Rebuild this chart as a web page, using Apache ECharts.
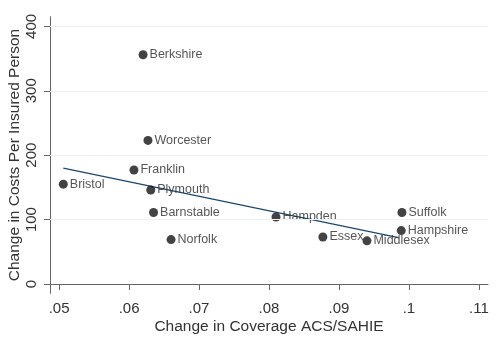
<!DOCTYPE html>
<html>
<head>
<meta charset="utf-8">
<script src="https://cdn.jsdelivr.net/npm/echarts@6/dist/echarts.min.js"></script>
<style>
  html, body { margin: 0; padding: 0; background: #ffffff; }
  #chart { width: 500px; height: 339px; }
</style>
</head>
<body>
<div id="chart"></div>
<script>
// Massachusetts counties: change in coverage vs change in costs per insured person
const counties = ['Berkshire', 'Worcester', 'Franklin', 'Bristol', 'Plymouth', 'Barnstable',
                  'Norfolk', 'Hampden', 'Essex', 'Middlesex', 'Suffolk', 'Hampshire'];
const coverageChange = [0.0620, 0.0627, 0.0607, 0.0506, 0.0631, 0.0635,
                        0.0660, 0.0810, 0.0877, 0.0940, 0.0990, 0.0989];
const costChange = [356, 223, 177, 155, 146, 111,
                    69, 104, 73, 67, 111, 83];

// Linear fit endpoints
const fitX = [0.0506, 0.0985];
const fitY = [180, 72];

// Axis ticks
const xTicks = [0.05, 0.06, 0.07, 0.08, 0.09, 0.10, 0.11];
const yTicks = [0, 100, 200, 300, 400];

const fontFamily = '"Liberation Sans", Arial, sans-serif';
const textColor = '#333333';

const points = counties.map((name, i) => [coverageChange[i], costChange[i], name]);
const fitLine = fitX.map((x, i) => [x, fitY[i]]);

const chart = echarts.init(document.getElementById('chart'), null, { renderer: 'canvas' });
chart.setOption({
  backgroundColor: '#ffffff',
  animation: false,
  grid: { left: 50, right: 12, top: 16.7, bottom: 45.7, outerBoundsMode: 'none', containLabel: false },
  xAxis: {
    type: 'value',
    min: 0.0487,
    max: 0.1113,
    name: 'Change in Coverage ACS/SAHIE',
    nameLocation: 'middle',
    nameGap: 25.5,
    nameMoveOverlap: false,
    nameTextStyle: { fontFamily, fontSize: 15.5, color: textColor },
    axisLine: { show: true, lineStyle: { color: '#666666', width: 1 } },
    axisTick: { show: true, length: 6, customValues: xTicks, lineStyle: { color: '#666666' } },
    axisLabel: {
      customValues: xTicks,
      margin: 8,
      fontFamily, fontSize: 15, color: textColor,
      formatter: v => String(+v.toFixed(2)).replace(/^0/, '')
    },
    splitLine: { show: false }
  },
  yAxis: {
    type: 'value',
    min: -14.4,
    max: 415,
    name: 'Change in Costs Per Insured Person',
    nameLocation: 'middle',
    nameGap: 27,
    nameMoveOverlap: false,
    nameTextStyle: { fontFamily, fontSize: 15.5, color: textColor },
    axisLine: { show: true, lineStyle: { color: '#666666', width: 1 } },
    axisTick: { show: true, length: 6, customValues: yTicks, lineStyle: { color: '#666666' } },
    axisLabel: {
      customValues: yTicks,
      rotate: 90,
      margin: 11,
      fontFamily, fontSize: 15, color: textColor
    },
    splitLine: { show: false }
  },
  series: [
    {
      type: 'line',
      data: yTicks.filter(v => v > 0).map(v => [0.0487, v]),
      symbol: 'none',
      lineStyle: { width: 0 },
      silent: true,
      markLine: {
        silent: true,
        symbol: 'none',
        label: { show: false },
        lineStyle: { color: '#eaf2f3', width: 1.2, type: 'solid' },
        data: yTicks.filter(v => v > 0).map(v => ({ yAxis: v }))
      }
    },
    {
      type: 'line',
      data: fitLine,
      symbol: 'none',
      lineStyle: { color: '#1a476f', width: 1.3 },
      z: 3
    },
    {
      type: 'scatter',
      data: points,
      symbol: 'circle',
      symbolSize: 9,
      itemStyle: { color: '#141414' },
      z: 4,
      label: {
        show: true,
        position: 'right',
        distance: 2,
        formatter: p => p.data[2],
        fontFamily, fontSize: 12.5, color: '#2a2a2a'
      }
    }
  ]
});
</script>
</body>
</html>
